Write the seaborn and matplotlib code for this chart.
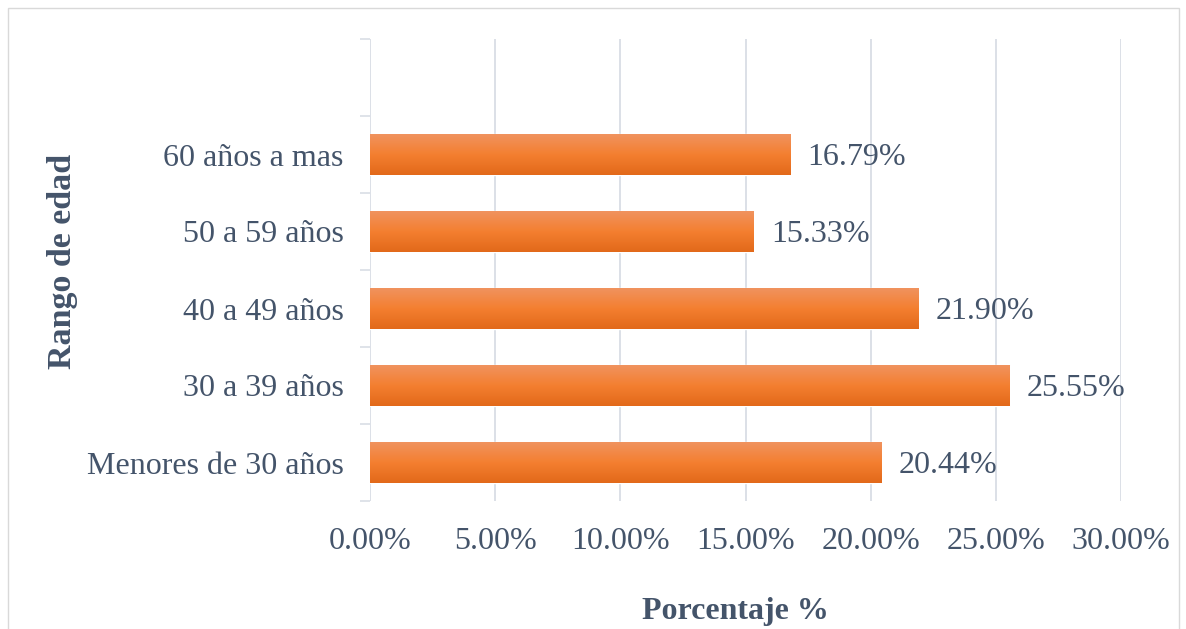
import numpy as np
import pandas as pd
import matplotlib
matplotlib.use("Agg")
import matplotlib.pyplot as plt
import seaborn as sns
from matplotlib.colors import LinearSegmentedColormap
from matplotlib.patches import Rectangle

# Data (top to bottom as drawn)
categories = ["60 años a mas", "50 a 59 años", "40 a 49 años", "30 a 39 años", "Menores de 30 años"]
values = [16.79, 15.33, 21.90, 25.55, 20.44]
xticks = [0, 5, 10, 15, 20, 25, 30]

df = pd.DataFrame({"rango": categories, "pct": values})

sns.set_theme(style="white")
plt.rcParams["font.family"] = ["Liberation Serif", "DejaVu Serif"]

text_col = "#44546A"
grid_col = "#DCE0E7"
fs = 23

fig = plt.figure(figsize=(11.86, 6.29), dpi=100)
ax = fig.add_axes([370 / 1186, 1 - 501 / 629, (1121 - 370) / 1186, (501 - 39) / 629])

sns.barplot(data=df, x="pct", y="rango", orient="h", color="#F47F30", width=0.52, ax=ax, zorder=3)

# gradient fill for each bar
cmap = LinearSegmentedColormap.from_list("og", ["#F0935E", "#F47F30", "#E2691A"])
grad = np.linspace(0, 1, 64).reshape(-1, 1)
for p in ax.patches:
    x0, y0 = p.get_x(), p.get_y()
    w, h = p.get_width(), p.get_height()
    im = ax.imshow(grad, cmap=cmap, aspect="auto", extent=(x0, x0 + w, y0 + h, y0),
                   origin="upper", zorder=4)
    im.set_clip_path(p)

ax.set_xlim(0, 30)
ax.set_ylim(4.5, -1.5)

for s in ax.spines.values():
    s.set_visible(False)

ax.set_xticks(xticks)
ax.set_xticklabels([f"{v:.2f}%" for v in xticks])
ax.grid(axis="x", color=grid_col, linewidth=1.4, zorder=0)
ax.grid(axis="y", visible=False)
ax.axvline(0, color=grid_col, linewidth=1.4, zorder=1)

ax.set_yticks(np.arange(-1.5, 5, 1), minor=True)
ax.tick_params(axis="y", which="minor", length=7, width=1.3, color=grid_col, left=True)
ax.tick_params(axis="y", which="major", length=0, pad=19, labelsize=fs, labelcolor=text_col)
ax.tick_params(axis="x", length=0, pad=19, labelsize=fs, labelcolor=text_col)

for i, v in enumerate(values):
    ax.text(v + 0.68, i + 0.04, f"{v:.2f}%", va="center", ha="left", fontsize=fs, color=text_col, zorder=5)

ax.set_xlabel("")
ax.set_ylabel("")
fig.text(735 / 1186, 1 - 612 / 629, "Porcentaje %", ha="center", va="center",
         fontsize=23, fontweight="bold", color=text_col)
fig.text(62 / 1186, 1 - 261 / 629, "Rango de edad", ha="center", va="center", rotation=90,
         fontsize=24.5, fontweight="bold", color=text_col)

fig.patches.append(Rectangle((8 / 1186, -0.1), (1179 - 8) / 1186, 1.1 - 8 / 629,
                             transform=fig.transFigure, fill=False, edgecolor="#D9D9D9", linewidth=1))

fig.savefig("out.png", dpi=100)
